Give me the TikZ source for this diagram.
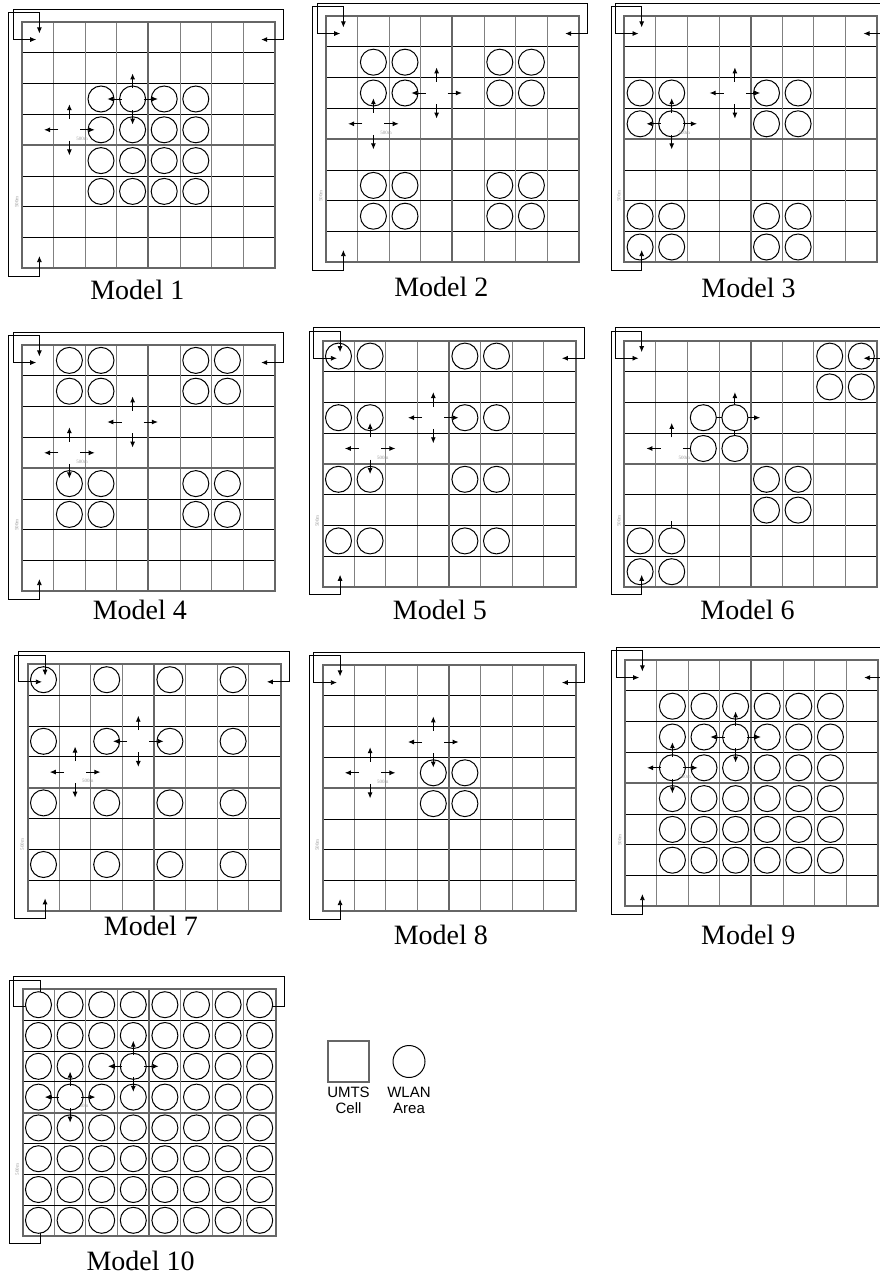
\documentclass[tikz,border=0pt]{standalone}
\usepackage{fontspec}
\setmainfont{Liberation Serif}
\newfontfamily\keyfont{Liberation Sans}
\usetikzlibrary{
  arrows.meta,
  positioning
}
\definecolor{umtsgray}{HTML}{666666}
\definecolor{linegray}{HTML}{808080}
\definecolor{scalegray}{HTML}{999999}

% one 8x8 block of cells (scope units = one cell)
\newcommand{\umtsgrid}{%
  \foreach \k in {1,2,3,5,6,7} {
    \draw[cellv] (\k,0) -- (\k,8);
    \draw[cellh] (0,\k) -- (8,\k);
  }
  \draw[umts] (0,0) rectangle (8,8) (4,0) -- (4,8) (0,4) -- (8,4);
}
% wrap-around links and scale marks
\newcommand{\wraplinks}{%
  \draw[wrap] (0.45,0.57) -- (-0.28,0.57) -- (-0.28,-0.42) -- (8.28,-0.42) -- (8.28,0.57) -- (7.57,0.57);
  \draw[wrap] (0.55,0.37) -- (0.55,-0.3) -- (-0.42,-0.3) -- (-0.42,8.25) -- (0.55,8.25) -- (0.55,7.6);
  \node[scalelbl] at (1.9,3.8) {500m};
  \node[scalelbl, rotate=90] at (-0.17,5.85) {500m};
}
% four moving directions around a cell centre
\newcommand{\mobcross}[2]{%
  \foreach \dx/\dy in {1/0,-1/0,0/1,0/-1}
    \draw[mob] ({#1+0.35*\dx},{#2+0.36*\dy}) -- ({#1+0.8*\dx},{#2+0.83*\dy});
}

\begin{document}
\begin{tikzpicture}[
    x=1pt, y=-1pt,
    cellv/.style={line width=0.9pt, linegray},
    cellh/.style={line width=0.8pt, black},
    umts/.style={line width=2pt, umtsgray},
    wlan/.style={circle, draw, line width=1pt, fill=white,
      minimum size=26pt, inner sep=0pt},
    mob/.style={-{Latex[length=6pt,width=5pt]}, line width=0.9pt},
    wrap/.style={{Latex[length=6pt,width=5pt]}-{Latex[length=6pt,width=5pt]}, line width=0.8pt},
    modellbl/.style={font=\fontsize{28}{28}\selectfont, inner sep=0pt},
    scalelbl/.style={font=\fontsize{5}{5}\selectfont, text=scalegray, inner sep=0pt},
    keytext/.style={font=\keyfont\fontsize{15}{16}\selectfont, align=center, inner sep=0pt},
    model/.style={x=31.6pt, y=-30.8pt}
  ]
  \useasboundingbox (0,0) rectangle (880,1276);

  % Model 1
  \begin{scope}[shift={(22pt,-22pt)}, model]
    \umtsgrid
    \foreach \i in {2,...,5} \foreach \j in {2,...,5}
      \node[wlan] (m1-\i-\j) at (\i+0.5,\j+0.5) {};
    \wraplinks
    \mobcross{3.5}{2.5}
    \mobcross{1.5}{3.5}
    \node[modellbl] (lbl1) at (3.65,8.7) {Model 1};
  \end{scope}

  % Model 2
  \begin{scope}[shift={(326pt,-16pt)}, model]
    \umtsgrid
    \foreach \i in {1,2,5,6} \foreach \j in {1,2,5,6}
      \node[wlan] (m2-\i-\j) at (\i+0.5,\j+0.5) {};
    \wraplinks
    \mobcross{3.5}{2.5}
    \mobcross{1.5}{3.5}
    \node[modellbl] (lbl2) at (3.65,8.8) {Model 2};
  \end{scope}

  % Model 3
  \begin{scope}[shift={(624.3pt,-16pt)}, model]
    \umtsgrid
    \foreach \i in {0,1,4,5} \foreach \j in {2,3,6,7}
      \node[wlan] (m3-\i-\j) at (\i+0.5,\j+0.5) {};
    \wraplinks
    \mobcross{3.5}{2.5}
    \mobcross{1.5}{3.5}
    \node[modellbl] (lbl3) at (3.93,8.83) {Model 3};
  \end{scope}

  % Model 4
  \begin{scope}[shift={(22pt,-345pt)}, model]
    \umtsgrid
    \foreach \i in {1,2,5,6} \foreach \j in {0,1,4,5}
      \node[wlan] (m4-\i-\j) at (\i+0.5,\j+0.5) {};
    \wraplinks
    \mobcross{3.5}{2.5}
    \mobcross{1.5}{3.5}
    \node[modellbl] (lbl4) at (3.73,8.6) {Model 4};
  \end{scope}

  % Model 5
  \begin{scope}[shift={(322.7pt,-340.7pt)}, model]
    \umtsgrid
    \foreach \i in {0,1,4,5} \foreach \j in {0,2,4,6}
      \node[wlan] (m5-\i-\j) at (\i+0.5,\j+0.5) {};
    \wraplinks
    \mobcross{3.5}{2.5}
    \mobcross{1.5}{3.5}
    \node[modellbl] (lbl5) at (3.71,8.74) {Model 5};
  \end{scope}

  % Model 6 (areas drawn over the moves)
  \begin{scope}[shift={(624.3pt,-340.7pt)}, model]
    \umtsgrid
    \mobcross{3.5}{2.5}
    \foreach \dx/\dy in {1/0,-1/0,0/-1}
      \draw[mob] ({1.5+0.35*\dx},{3.5+0.36*\dy}) -- ({1.5+0.8*\dx},{3.5+0.83*\dy});
    \draw[mob] (1.5,5.85) -- (1.5,6.4);
    \foreach \i/\j in {6/0,7/0,6/1,7/1,2/2,3/2,2/3,3/3,4/4,5/4,4/5,5/5,0/6,1/6,0/7,1/7}
      \node[wlan] (m6-\i-\j) at (\i+0.5,\j+0.5) {};
    \wraplinks
    \node[modellbl] (lbl6) at (3.9,8.74) {Model 6};
  \end{scope}

  % Model 7
  \begin{scope}[shift={(27.7pt,-664.3pt)}, model]
    \umtsgrid
    \foreach \i in {0,2,4,6} \foreach \j in {0,2,4,6}
      \node[wlan] (m7-\i-\j) at (\i+0.5,\j+0.5) {};
    \wraplinks
    \mobcross{3.5}{2.5}
    \mobcross{1.5}{3.5}
    \node[modellbl] (lbl7) at (3.9,8.5) {Model 7};
  \end{scope}

  % Model 8
  \begin{scope}[shift={(322.7pt,-665pt)}, model]
    \umtsgrid
    \foreach \i in {3,4} \foreach \j in {3,4}
      \node[wlan] (m8-\i-\j) at (\i+0.5,\j+0.5) {};
    \wraplinks
    \mobcross{3.5}{2.5}
    \mobcross{1.5}{3.5}
    \node[modellbl] (lbl8) at (3.74,8.77) {Model 8};
  \end{scope}

  % Model 9
  \begin{scope}[shift={(625pt,-660pt)}, model]
    \umtsgrid
    \foreach \i in {1,...,6} \foreach \j in {1,...,6}
      \node[wlan] (m9-\i-\j) at (\i+0.5,\j+0.5) {};
    \wraplinks
    \mobcross{3.5}{2.5}
    \mobcross{1.5}{3.5}
    \node[modellbl] (lbl9) at (3.9,8.93) {Model 9};
  \end{scope}

  % Model 10 (links run under the areas)
  \begin{scope}[shift={(22.7pt,-989.3pt)}, model]
    \umtsgrid
    \wraplinks
    \foreach \i in {0,...,7} \foreach \j in {0,...,7}
      \node[wlan] (m10-\i-\j) at (\i+0.5,\j+0.5) {};
    \mobcross{3.5}{2.5}
    \mobcross{1.5}{3.5}
    \node[modellbl] (lbl10) at (3.73,8.82) {Model 10};
  \end{scope}

  % legend
  \node[draw=umtsgray, line width=2pt, minimum size=41pt, inner sep=0pt] (cellkey) at (348.5,1061.5) {};
  \node[circle, draw, line width=1pt, minimum size=32pt, inner sep=0pt] (wlankey) at (409,1061.5) {};
  \node[keytext, below=4pt of cellkey] (celltext) {UMTS\\Cell};
  \node[keytext, below=4pt of wlankey.south |- cellkey.south] (wlantext) {WLAN\\Area};
\end{tikzpicture}
\end{document}
